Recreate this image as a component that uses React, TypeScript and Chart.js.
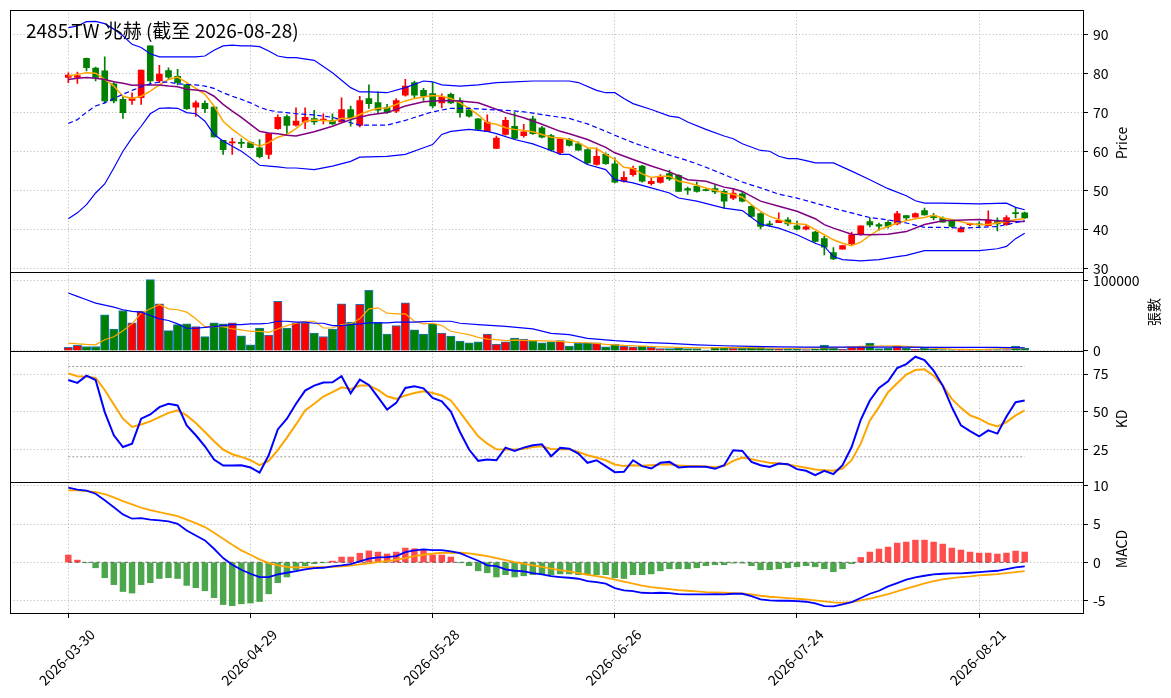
import { useEffect, useRef } from 'react';
import { Chart, registerables } from 'chart.js';

Chart.register(...registerables);

const FONT = '"Noto Sans CJK TC", "Noto Sans", sans-serif';

// x-axis ticks (trading-day index -> date label)
const tickIndex = [0, 20, 40, 60, 80, 100];
const tickLabels = ['2026-03-30', '2026-04-29', '2026-05-28', '2026-06-26', '2026-07-24', '2026-08-21'];

// y-axis ticks per panel
const priceTicks = [30, 40, 50, 60, 70, 80, 90];
const volTicks = [0, 100000];
const kdTicks = [25, 50, 75];
const macdTicks = [-5, 0, 5, 10];

// daily candles, 106 trading days
const opens = [78.9, 78.9, 83.8, 81.3, 80.6, 77.3, 73.3, 73.0, 73.7, 87.0, 78.0, 80.7, 79.2, 77.1, 71.3, 72.3, 71.3, 62.8, 62.1, 62.3, 62.2, 60.9, 59.2, 65.8, 68.9, 66.7, 67.5, 68.4, 68.0, 67.9, 67.5, 70.7, 66.6, 73.5, 72.5, 71.2, 70.3, 74.4, 77.6, 75.6, 74.8, 72.4, 74.6, 72.9, 70.6, 68.3, 65.0, 60.7, 64.3, 66.4, 64.0, 68.3, 66.0, 64.0, 59.6, 63.0, 61.9, 60.4, 56.6, 59.2, 56.8, 52.3, 54.0, 56.2, 51.7, 52.0, 54.3, 53.8, 50.4, 51.0, 50.1, 50.4, 49.7, 48.0, 49.1, 45.9, 44.0, 41.4, 41.7, 42.4, 40.9, 40.0, 39.3, 37.6, 34.0, 34.9, 36.3, 38.6, 42.0, 41.2, 41.8, 41.4, 43.5, 43.1, 44.8, 43.5, 42.8, 42.2, 39.3, 41.2, 41.4, 40.9, 42.0, 41.2, 44.2, 44.2];
const highs = [80.1, 80.3, 83.9, 81.6, 84.2, 77.6, 74.1, 75.0, 80.8, 87.0, 82.0, 81.4, 81.0, 77.3, 72.9, 72.9, 71.5, 62.8, 63.4, 63.2, 62.4, 63.0, 64.5, 69.3, 69.3, 71.1, 71.1, 70.5, 69.6, 69.6, 73.7, 71.6, 74.1, 77.0, 75.2, 72.0, 73.5, 78.4, 78.0, 76.1, 77.6, 74.7, 74.9, 73.7, 71.1, 68.4, 69.3, 63.9, 68.7, 69.9, 66.9, 69.0, 66.4, 64.3, 63.2, 63.3, 62.4, 60.7, 60.9, 59.6, 58.3, 54.8, 56.2, 56.4, 53.1, 54.0, 55.1, 54.0, 50.8, 52.1, 50.4, 51.3, 50.2, 50.4, 49.7, 46.1, 44.2, 42.1, 44.2, 43.0, 42.1, 41.1, 39.5, 38.2, 35.3, 35.8, 39.3, 40.9, 42.9, 41.6, 42.2, 44.6, 43.6, 44.2, 45.4, 44.1, 43.2, 42.4, 40.7, 41.6, 41.9, 44.7, 42.9, 43.5, 45.4, 44.4];
const lows = [77.6, 77.4, 80.6, 78.0, 72.4, 72.4, 68.4, 72.0, 72.0, 77.1, 77.6, 78.4, 77.0, 70.7, 68.9, 69.9, 63.6, 59.2, 59.2, 60.9, 60.9, 58.3, 58.1, 65.6, 64.5, 66.4, 65.8, 66.9, 67.0, 66.9, 67.3, 66.4, 66.2, 71.0, 69.9, 69.7, 69.9, 74.1, 73.5, 73.0, 71.1, 71.1, 72.2, 68.7, 68.7, 65.6, 65.0, 60.7, 64.1, 63.0, 63.6, 64.3, 63.4, 60.0, 59.2, 61.3, 60.2, 56.6, 56.4, 56.6, 51.9, 52.1, 53.6, 52.1, 51.3, 51.8, 52.5, 49.7, 48.9, 49.5, 49.8, 49.1, 45.4, 47.6, 47.0, 43.1, 40.1, 40.7, 41.7, 40.9, 39.8, 39.8, 36.7, 33.4, 32.2, 34.9, 36.0, 38.4, 40.6, 39.7, 40.3, 41.1, 42.3, 43.1, 43.6, 42.4, 41.8, 40.5, 39.3, 40.9, 40.5, 40.9, 39.6, 41.0, 42.9, 42.7];
const closes = [79.5, 79.4, 81.4, 78.9, 72.9, 72.9, 69.9, 73.7, 80.8, 78.0, 79.8, 79.0, 77.6, 70.9, 72.4, 70.9, 63.7, 60.4, 62.4, 62.0, 60.9, 58.6, 64.5, 68.7, 66.6, 67.7, 68.7, 67.5, 68.1, 67.0, 70.7, 68.4, 73.0, 72.2, 70.5, 69.9, 73.0, 76.7, 74.4, 74.1, 71.6, 73.9, 72.4, 69.9, 69.0, 65.6, 67.5, 63.4, 67.9, 63.3, 65.0, 64.5, 63.6, 60.3, 63.2, 61.5, 60.3, 57.0, 58.7, 56.8, 52.1, 53.3, 55.6, 52.3, 52.3, 53.5, 52.9, 49.7, 50.0, 49.7, 49.9, 49.6, 47.2, 49.3, 47.2, 43.3, 40.7, 41.1, 42.3, 41.4, 40.0, 40.6, 36.9, 35.4, 32.4, 35.8, 38.6, 40.9, 41.1, 40.8, 40.7, 44.0, 42.9, 44.0, 43.7, 43.0, 41.8, 40.7, 40.3, 41.4, 41.1, 42.4, 41.4, 43.0, 44.0, 42.9];

// price overlays as [index, value]
const bbUpper = [[0, 91.7], [1, 92.1], [2, 93.2], [3, 93.3], [4, 92.7], [5, 91.3], [6, 89.6], [7, 87.4], [8, 86.6], [9, 85.0], [10, 84.2], [11, 84.2], [12, 84.2], [13, 84.2], [14, 84.2], [15, 84.4], [16, 85.9], [17, 87.0], [18, 87.2], [19, 87.0], [20, 87.0], [21, 86.8], [22, 85.7], [23, 84.4], [24, 84.0], [25, 84.0], [27, 83.3], [29, 80.1], [31, 76.3], [32, 75.2], [33, 75.2], [35, 75.0], [37, 76.3], [39, 78.0], [40, 77.8], [41, 77.0], [43, 76.7], [45, 77.0], [47, 77.6], [49, 77.8], [51, 78.0], [54, 78.0], [55, 78.0], [56, 77.6], [58, 75.6], [59, 75.0], [60, 75.0], [61, 73.5], [62, 72.2], [64, 70.7], [66, 69.0], [67, 68.7], [68, 67.5], [70, 65.6], [72, 63.9], [73, 63.2], [74, 61.9], [76, 60.2], [77, 60.0], [78, 58.7], [79, 58.1], [80, 58.1], [81, 57.6], [82, 57.0], [84, 57.0], [86, 54.9], [88, 52.7], [90, 50.4], [92, 48.6], [93, 47.3], [94, 46.7], [96, 46.7], [100, 46.5], [103, 46.7], [104, 45.6], [105, 45.0]];
const bbMid = [[0, 67.1], [1, 68.1], [2, 70.0], [3, 71.6], [4, 72.4], [5, 73.5], [6, 74.6], [7, 75.6], [8, 76.5], [9, 77.3], [10, 77.7], [11, 77.7], [12, 77.3], [13, 77.1], [14, 77.0], [15, 76.7], [16, 76.1], [17, 75.0], [18, 74.1], [19, 73.3], [20, 72.4], [21, 71.3], [22, 70.5], [23, 70.1], [24, 69.9], [25, 69.6], [27, 69.3], [29, 68.7], [31, 67.3], [32, 66.7], [35, 66.7], [37, 67.9], [39, 69.4], [40, 70.1], [42, 71.0], [44, 71.0], [46, 70.7], [48, 70.5], [50, 70.1], [52, 69.4], [54, 68.7], [55, 68.4], [57, 67.0], [59, 65.1], [60, 64.1], [62, 62.2], [64, 60.6], [66, 59.0], [68, 57.6], [70, 55.9], [72, 54.0], [74, 52.1], [76, 50.6], [78, 49.0], [80, 48.0], [82, 46.7], [84, 45.4], [86, 44.2], [88, 43.0], [90, 42.4], [92, 41.6], [94, 40.5], [96, 40.5], [98, 40.3], [100, 40.5], [102, 40.7], [103, 41.2], [105, 42.2]];
const bbLower = [[0, 42.7], [1, 44.2], [2, 46.3], [3, 49.3], [4, 51.6], [5, 55.7], [6, 60.0], [7, 63.4], [8, 66.4], [9, 69.6], [10, 71.0], [11, 71.1], [12, 71.0], [13, 69.9], [14, 69.6], [15, 67.7], [16, 64.3], [17, 62.6], [18, 61.3], [19, 60.0], [20, 58.3], [21, 56.4], [22, 56.2], [23, 56.0], [24, 55.7], [25, 55.7], [27, 55.3], [29, 56.2], [31, 57.4], [32, 58.5], [35, 58.7], [37, 59.2], [39, 60.9], [40, 61.7], [41, 64.3], [42, 65.1], [44, 65.6], [46, 65.1], [47, 64.5], [49, 63.0], [51, 61.9], [53, 60.2], [54, 59.2], [55, 59.2], [57, 56.6], [59, 55.3], [60, 52.7], [62, 51.9], [64, 50.6], [66, 49.3], [67, 48.0], [69, 47.2], [72, 45.4], [74, 44.8], [76, 41.3], [78, 40.3], [80, 38.6], [82, 36.4], [83, 35.6], [84, 33.0], [85, 32.2], [87, 31.9], [89, 32.2], [91, 33.0], [92, 33.3], [94, 34.5], [96, 34.5], [100, 34.5], [102, 35.0], [103, 35.6], [104, 37.6], [105, 39.0]];
const ma5 = [[0, 79.3], [1, 79.7], [2, 80.1], [3, 80.0], [4, 78.4], [5, 76.7], [6, 74.1], [7, 73.5], [8, 74.1], [9, 75.4], [10, 77.0], [11, 78.4], [12, 79.0], [13, 77.6], [14, 76.1], [15, 74.6], [16, 71.6], [17, 67.7], [18, 65.6], [19, 63.9], [20, 62.2], [21, 61.3], [22, 62.2], [23, 63.6], [24, 64.3], [25, 65.8], [26, 67.7], [27, 68.0], [28, 67.9], [29, 67.7], [30, 68.4], [31, 68.4], [32, 69.4], [33, 70.3], [34, 71.0], [35, 71.1], [36, 72.0], [37, 72.9], [38, 73.5], [39, 73.9], [40, 74.3], [41, 74.1], [42, 73.5], [43, 72.4], [44, 71.0], [45, 69.3], [46, 67.3], [47, 66.9], [48, 66.0], [49, 65.6], [50, 65.3], [51, 65.0], [52, 64.3], [53, 63.6], [54, 63.4], [55, 63.0], [56, 62.2], [57, 60.9], [58, 60.7], [59, 59.2], [60, 57.9], [61, 55.9], [62, 55.6], [63, 54.2], [64, 53.3], [65, 53.6], [66, 53.6], [67, 52.3], [68, 51.9], [69, 51.3], [70, 50.6], [71, 50.0], [72, 49.3], [73, 49.0], [74, 48.2], [75, 46.3], [76, 44.6], [77, 43.3], [78, 42.5], [79, 41.6], [80, 41.4], [81, 41.2], [82, 39.9], [83, 38.6], [84, 37.3], [85, 36.4], [86, 35.8], [87, 36.7], [88, 38.4], [89, 39.9], [90, 40.7], [91, 41.6], [92, 42.2], [93, 42.7], [94, 43.0], [95, 43.6], [96, 42.9], [97, 42.5], [98, 41.9], [99, 41.4], [100, 41.2], [101, 41.2], [102, 41.6], [103, 42.0], [104, 42.5], [105, 42.7]];
const ma10 = [[0, 78.4], [1, 78.7], [2, 78.9], [3, 78.7], [4, 78.4], [5, 77.8], [6, 77.4], [7, 76.9], [8, 77.0], [9, 77.0], [10, 77.0], [11, 76.7], [12, 76.5], [13, 75.9], [14, 75.7], [15, 75.4], [16, 74.1], [17, 72.0], [18, 70.3], [19, 68.7], [20, 66.9], [21, 65.1], [22, 64.7], [23, 64.5], [24, 64.1], [25, 63.9], [27, 65.0], [29, 66.4], [31, 68.1], [33, 69.3], [35, 69.9], [37, 71.6], [39, 72.7], [41, 73.0], [43, 72.9], [45, 72.4], [46, 71.6], [48, 69.9], [50, 68.6], [52, 66.9], [54, 65.1], [55, 64.5], [57, 63.0], [59, 61.0], [60, 59.6], [62, 57.9], [64, 56.2], [66, 54.7], [68, 52.7], [70, 52.3], [72, 50.8], [73, 50.4], [74, 49.7], [76, 47.2], [78, 45.9], [80, 44.6], [82, 42.7], [83, 41.2], [84, 40.3], [86, 38.7], [88, 38.6], [90, 38.7], [92, 39.4], [94, 41.2], [96, 42.2], [100, 42.5], [102, 42.2], [104, 42.0], [105, 42.0]];

// volume (張)
const volumes = [4800, 7700, 6200, 6200, 51200, 31100, 57400, 39700, 56500, 101400, 67000, 28700, 37300, 38300, 34400, 20100, 39700, 38300, 39700, 21500, 8600, 32500, 22500, 70300, 32500, 39700, 39700, 25400, 20100, 31100, 67000, 40700, 66000, 86100, 40700, 23900, 35900, 68400, 29700, 23900, 38300, 25400, 21100, 13900, 11500, 12900, 23900, 9600, 12900, 18200, 16700, 14400, 11500, 12900, 14400, 6700, 10500, 11500, 11500, 5700, 9100, 6700, 5700, 6700, 4800, 3300, 3300, 3800, 3300, 3300, 1000, 5300, 5300, 3800, 3800, 4800, 4800, 3300, 2400, 2400, 2400, 1900, 2900, 8100, 3800, 2400, 5300, 5300, 11000, 3300, 3800, 6700, 3800, 2400, 3800, 2900, 1900, 1900, 1900, 1900, 1900, 1900, 1900, 1900, 6700, 3800];
const volMa5 = [[0, 11000], [1, 10000], [2, 9100], [3, 8600], [4, 15800], [5, 20100], [6, 28700], [7, 38300], [8, 53600], [9, 59800], [10, 65600], [11, 59800], [12, 58400], [13, 55000], [14, 45500], [15, 34400], [16, 34400], [17, 34400], [18, 31100], [19, 29700], [20, 27800], [21, 27800], [22, 26300], [23, 31100], [24, 35900], [25, 39200], [26, 42100], [27, 42100], [28, 32500], [29, 32500], [30, 37300], [31, 38300], [32, 45500], [33, 59800], [34, 61200], [35, 53600], [36, 52600], [37, 52600], [38, 42100], [39, 38300], [40, 39200], [41, 35900], [42, 27800], [43, 25400], [44, 23000], [45, 19100], [46, 16700], [47, 15800], [48, 14400], [49, 15300], [50, 14800], [51, 14400], [54, 13400], [55, 12000], [57, 11500], [58, 10500], [59, 9100], [60, 8600], [61, 7700], [62, 7200], [63, 6700], [65, 5700], [67, 4800], [70, 4300], [73, 4800], [76, 4300], [79, 3300], [82, 4300], [85, 4800], [87, 6200], [89, 6700], [91, 7200], [93, 5700], [95, 3800], [97, 2400], [100, 1900], [103, 3300], [105, 3800]];
const volMa20 = [[0, 82300], [1, 77500], [2, 72700], [3, 67900], [4, 65100], [5, 62200], [6, 58400], [7, 56000], [8, 55000], [9, 50200], [10, 45500], [11, 43100], [12, 38300], [13, 32100], [14, 32100], [15, 33500], [16, 34400], [17, 35900], [18, 37300], [19, 37300], [20, 38300], [21, 38300], [22, 39200], [23, 42100], [24, 42100], [25, 40700], [26, 40700], [27, 39200], [28, 39200], [29, 35900], [30, 35900], [31, 37300], [32, 38300], [33, 39700], [34, 39700], [35, 39700], [36, 40700], [37, 40700], [38, 40700], [39, 41600], [40, 42100], [42, 42100], [43, 39200], [45, 37300], [48, 34900], [51, 31100], [53, 24900], [55, 23000], [57, 17700], [60, 14400], [63, 12000], [66, 10500], [69, 8600], [72, 7200], [75, 6200], [78, 5700], [81, 5300], [84, 5300], [90, 5300], [96, 4800], [102, 4800], [105, 4300]];

// KD
const kValues = [71.0, 69.1, 73.9, 71.0, 49.7, 34.3, 26.5, 28.7, 45.3, 48.1, 53.0, 55.2, 54.1, 40.9, 34.3, 27.0, 18.2, 14.2, 14.2, 14.4, 12.9, 9.4, 21.0, 38.2, 45.3, 55.2, 64.0, 67.3, 69.3, 69.5, 73.5, 62.2, 71.3, 67.7, 59.6, 51.4, 55.8, 65.7, 66.8, 65.5, 59.1, 56.9, 50.1, 36.5, 24.8, 17.3, 18.2, 17.7, 26.1, 23.9, 26.1, 27.6, 28.3, 20.4, 25.9, 25.4, 22.1, 16.0, 17.7, 13.8, 9.8, 10.0, 17.7, 13.8, 12.2, 16.0, 16.6, 12.9, 13.3, 13.3, 13.3, 12.0, 14.4, 24.3, 23.9, 16.6, 14.4, 13.3, 15.5, 15.1, 11.8, 10.7, 7.8, 10.7, 8.5, 14.4, 26.5, 44.6, 57.4, 65.7, 70.2, 79.0, 81.6, 86.5, 84.3, 77.2, 67.3, 53.0, 40.9, 37.1, 33.6, 37.6, 35.4, 46.8, 56.3, 57.4];
const dValues = [75.4, 73.5, 73.2, 72.4, 64.4, 54.7, 45.3, 39.8, 41.5, 43.5, 46.4, 49.2, 50.8, 47.5, 42.4, 36.5, 30.3, 24.8, 21.7, 19.9, 17.7, 14.4, 17.3, 24.4, 32.7, 41.5, 50.8, 55.2, 60.0, 62.9, 66.2, 65.1, 67.3, 67.3, 64.4, 60.2, 58.5, 60.7, 62.4, 63.5, 62.4, 60.7, 57.4, 49.7, 41.5, 33.6, 28.7, 25.0, 24.8, 24.8, 25.4, 26.5, 27.0, 25.2, 25.0, 25.0, 23.2, 21.0, 19.5, 17.7, 14.9, 13.8, 14.4, 14.0, 14.4, 14.9, 15.1, 14.2, 13.8, 13.8, 13.5, 13.1, 13.8, 17.3, 19.5, 18.4, 17.1, 16.0, 15.5, 14.9, 13.8, 12.7, 11.6, 11.1, 10.7, 12.2, 17.7, 28.7, 44.2, 53.0, 62.9, 68.8, 74.6, 77.6, 78.1, 73.9, 67.3, 58.5, 52.5, 47.5, 45.3, 42.0, 40.2, 43.1, 47.5, 50.8];
const kdHigh = 80;
const kdLow = 20;

// MACD
const difValues = [9.74, 9.5, 9.35, 8.96, 8.1, 7.2, 6.26, 5.7, 5.78, 5.57, 5.48, 5.35, 5.04, 4.17, 3.52, 2.87, 1.78, 0.57, -0.3, -0.96, -1.48, -1.91, -1.91, -1.57, -1.35, -1.13, -0.91, -0.74, -0.7, -0.52, -0.39, -0.22, 0.13, 0.48, 0.65, 0.7, 0.83, 1.35, 1.57, 1.7, 1.61, 1.61, 1.43, 1.22, 0.7, 0.22, -0.39, -0.48, -0.91, -1.09, -1.17, -1.39, -1.55, -1.8, -1.91, -2.0, -2.13, -2.43, -2.57, -2.78, -3.35, -3.65, -3.74, -3.96, -4.0, -3.96, -4.0, -4.13, -4.17, -4.17, -4.17, -4.13, -4.17, -4.09, -4.09, -4.39, -4.83, -4.96, -5.0, -5.0, -5.04, -5.13, -5.35, -5.7, -5.74, -5.48, -5.17, -4.65, -4.09, -3.7, -3.13, -2.7, -2.26, -1.96, -1.74, -1.57, -1.48, -1.43, -1.43, -1.35, -1.26, -1.17, -1.09, -0.87, -0.65, -0.52];
const signalValues = [9.39, 9.39, 9.3, 9.17, 8.91, 8.48, 8.0, 7.57, 7.13, 6.83, 6.57, 6.3, 6.04, 5.57, 5.13, 4.61, 3.87, 3.09, 2.3, 1.57, 1.0, 0.39, -0.09, -0.39, -0.57, -0.65, -0.65, -0.61, -0.61, -0.57, -0.52, -0.43, -0.26, -0.13, 0.04, 0.17, 0.35, 0.57, 0.83, 1.0, 1.13, 1.26, 1.26, 1.26, 1.17, 1.0, 0.83, 0.57, 0.3, 0.04, -0.17, -0.39, -0.59, -0.8, -1.0, -1.17, -1.39, -1.61, -1.78, -2.0, -2.26, -2.52, -2.78, -3.04, -3.22, -3.35, -3.48, -3.61, -3.7, -3.78, -3.87, -3.91, -3.96, -4.0, -4.04, -4.17, -4.35, -4.48, -4.57, -4.65, -4.74, -4.83, -4.96, -5.09, -5.22, -5.26, -5.17, -4.96, -4.74, -4.43, -4.13, -3.78, -3.43, -3.09, -2.74, -2.43, -2.22, -2.04, -1.91, -1.83, -1.7, -1.61, -1.52, -1.39, -1.26, -1.13];
const histValues = [0.96, 0.3, -0.05, -0.7, -2.0, -2.9, -3.8, -4.0, -2.9, -2.65, -2.1, -2.0, -2.1, -3.0, -3.3, -3.7, -4.6, -5.5, -5.65, -5.4, -5.3, -5.1, -4.1, -2.65, -1.9, -0.96, -0.43, -0.17, -0.04, 0.17, 0.7, 0.7, 1.2, 1.5, 1.35, 1.1, 1.35, 1.87, 1.78, 1.65, 0.96, 0.96, 0.7, -0.05, -0.43, -1.1, -1.35, -1.9, -1.6, -1.9, -1.75, -1.6, -1.5, -1.6, -1.5, -1.5, -1.6, -1.6, -1.6, -1.6, -2.0, -2.1, -1.6, -1.6, -1.5, -1.1, -0.83, -0.83, -0.83, -0.7, -0.43, -0.3, -0.3, -0.09, -0.09, -0.43, -0.96, -0.96, -0.83, -0.7, -0.57, -0.43, -0.57, -0.83, -1.22, -0.83, -0.17, 0.65, 1.35, 1.74, 2.0, 2.52, 2.65, 2.91, 2.91, 2.65, 2.39, 1.87, 1.61, 1.35, 1.22, 1.22, 1.09, 1.22, 1.48, 1.35];

const UP = '#ff0000';
const DOWN = '#008000';
const PANEL_IDS = ['y', 'yVol', 'yKd', 'yMacd'];

const pts = (pairs: number[][]) => pairs.map(([x, y]) => ({ x, y }));
const series = (vals: number[]) => vals.map((y, x) => ({ x, y }));

const panelFrames = {
  id: 'panelFrames',
  afterDatasetsDraw(chart: any) {
    const { ctx, chartArea } = chart;
    ctx.save();
    ctx.strokeStyle = '#000';
    ctx.lineWidth = 1;
    PANEL_IDS.forEach((id) => {
      const s = chart.scales[id];
      ctx.strokeRect(chartArea.left + 0.5, Math.round(s.top) + 0.5, chartArea.right - chartArea.left, Math.round(s.bottom - s.top));
    });
    ctx.restore();
  },
};

const gridStyle = {
  color: '#b0b0b0',
  lineWidth: 0.8,
  tickLength: 5,
  tickColor: '#000',
  tickWidth: 1,
  offset: false,
};
const borderStyle = { display: true, color: '#000', width: 1, dash: [1.2, 2.2] };
const tickFont = { family: FONT, size: 14 };

function yAxis(weight: number, min: number, max: number, ticks: number[]) {
  return {
    type: 'linear',
    position: 'right',
    stack: 'panels',
    stackWeight: weight,
    min,
    max,
    afterBuildTicks: (s: any) => { s.ticks = ticks.map((v) => ({ value: v })); },
    afterFit: (s: any) => {
      s.width = 88;
      s.paddingTop = 0;
      s.paddingBottom = 0;
    },
    ticks: { autoSkip: false, color: '#000', font: tickFont, padding: 5, callback: (v: any) => String(v) },
    grid: gridStyle,
    border: borderStyle,
  };
}

function line(data: any[], color: string, width: number, yAxisID: string, extra: any = {}) {
  return {
    type: 'line',
    data,
    yAxisID,
    borderColor: color,
    backgroundColor: color,
    borderWidth: width,
    pointRadius: 0,
    tension: 0,
    fill: false,
    order: 1,
    ...extra,
  };
}

function StockChart() {
  const chartRef = useRef<HTMLCanvasElement>(null);

  useEffect(() => {
    if (!chartRef.current) return;
    const idx = closes.map((_, i) => i);
    const candleColors = idx.map((i) => (closes[i] >= opens[i] ? UP : DOWN));
    const histColors = histValues.map((v) => (v >= 0 ? 'rgba(255,0,0,0.7)' : 'rgba(0,128,0,0.7)'));

    const chart = new Chart(chartRef.current, {
      type: 'bar',
      data: {
        datasets: [
          // price
          { type: 'bar', yAxisID: 'y', data: idx.map((i) => ({ x: i, y: [lows[i], highs[i]] })), backgroundColor: candleColors, barThickness: 1, grouped: false, order: 5 },
          { type: 'bar', yAxisID: 'y', data: idx.map((i) => ({ x: i, y: [opens[i], closes[i]] })), backgroundColor: candleColors, barThickness: 6, minBarLength: 1, grouped: false, order: 4 },
          line(pts(bbUpper), '#0000ff', 1.2, 'y'),
          line(pts(bbMid), '#0000ff', 1.2, 'y', { borderDash: [5, 3] }),
          line(pts(bbLower), '#0000ff', 1.2, 'y'),
          line(pts(ma10), '#800080', 1.5, 'y'),
          line(pts(ma5), '#ffa500', 1.5, 'y'),
          // volume
          { type: 'bar', yAxisID: 'yVol', data: series(volumes), backgroundColor: candleColors, borderColor: '#1f77b4', borderWidth: 1, barThickness: 8.4, grouped: false, order: 4 },
          line(pts(volMa20), '#0000ff', 1.2, 'yVol'),
          line(pts(volMa5), '#ffa500', 1.2, 'yVol'),
          // KD
          line([{ x: 0, y: kdHigh }, { x: 105, y: kdHigh }], '#999999', 1, 'yKd', { borderDash: [2, 2], order: 3 }),
          line([{ x: 0, y: kdLow }, { x: 105, y: kdLow }], '#999999', 1, 'yKd', { borderDash: [2, 2], order: 3 }),
          line(series(kValues), '#0000ff', 2, 'yKd'),
          line(series(dValues), '#ffa500', 2, 'yKd'),
          // MACD
          line([{ x: 0, y: 0 }, { x: 105, y: 0 }], '#808080', 1.2, 'yMacd', { borderDash: [4, 3], order: 6 }),
          { type: 'bar', yAxisID: 'yMacd', data: series(histValues), backgroundColor: histColors, barThickness: 5.8, grouped: false, order: 4 },
          line(series(difValues), '#0000ff', 1.8, 'yMacd'),
          line(series(signalValues), '#ffa500', 1.8, 'yMacd'),
        ] as any,
      },
      options: {
        responsive: false,
        animation: false,
        layout: { padding: { left: 10, top: 10, right: 0, bottom: 0 } },
        plugins: { legend: { display: false }, tooltip: { enabled: false }, title: { display: false } },
        scales: {
          x: {
            type: 'linear',
            min: -6.4,
            max: 111.4,
            offset: false,
            afterBuildTicks: (s: any) => { s.ticks = tickIndex.map((v) => ({ value: v })); },
            afterFit: (s: any) => {
              s.height = 85;
              s.paddingLeft = 0;
              s.paddingRight = 0;
            },
            ticks: {
              autoSkip: false,
              minRotation: 45,
              maxRotation: 45,
              color: '#000',
              font: tickFont,
              padding: 8,
              labelOffset: 24,
              callback: (v: any) => tickLabels[tickIndex.indexOf(Number(v))] ?? '',
            },
            grid: gridStyle,
            border: borderStyle,
          },
          y: yAxis(4, 29.0, 96.2, priceTicks),
          yVol: yAxis(1.2, 0, 111900, volTicks),
          yKd: yAxis(2, 3.3, 90.4, kdTicks),
          yMacd: yAxis(2, -6.6, 10.5, macdTicks),
        } as any,
      },
      plugins: [panelFrames],
    });

    return () => chart.destroy();
  }, []);

  const sideTitle = (text: string, cx: number, cy: number) => (
    <div
      style={{
        position: 'absolute',
        left: cx,
        top: cy,
        transform: 'translate(-50%, -50%) rotate(-90deg)',
        fontFamily: FONT,
        fontSize: 14,
        color: '#000',
        whiteSpace: 'nowrap',
        lineHeight: '16px',
      }}
    >
      {text}
    </div>
  );

  return (
    <div style={{ position: 'fixed', left: 0, top: 0, width: 1171, height: 698, background: '#fff' }}>
      <canvas ref={chartRef} width={1171} height={698} style={{ position: 'absolute', left: 0, top: 0 }} />
      <div style={{ position: 'absolute', left: 26, top: 19, fontFamily: FONT, fontSize: 19, color: '#000', lineHeight: '22px', whiteSpace: 'nowrap' }}>
        2485.TW 兆赫 (截至 2026-08-28)
      </div>
      {sideTitle('Price', 1121, 143)}
      {sideTitle('張數', 1153, 312)}
      {sideTitle('KD', 1121, 419)}
      {sideTitle('MACD', 1121, 549)}
    </div>
  );
}

export default function App() {
  return <StockChart />;
}
